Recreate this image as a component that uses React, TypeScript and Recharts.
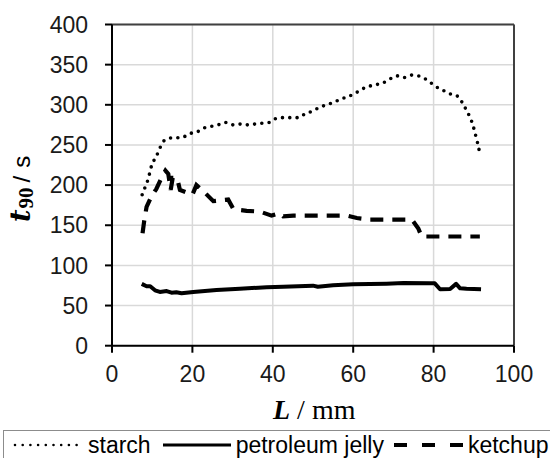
import React from 'react'
import {
  LineChart,
  Line,
  XAxis,
  YAxis,
  CartesianGrid,
  ReferenceLine,
  Legend
} from 'recharts'

// values (L in mm, t90 in s)
const starchL = [7.5, 8.2, 8.9, 9.9, 10.8, 11.7, 12.4, 13.6, 15.4, 17.3, 19.2, 21.1, 22.8, 24.5, 26.4, 28.2, 30, 32, 33.7, 35.5, 37.3, 39.2, 40.8, 42.6, 44.5, 46.3, 48.1, 49.8, 51.7, 53.4, 55.1, 56.9, 58.6, 60.4, 62, 63.9, 65.6, 67.3, 69.1, 70.9, 72.6, 74.5, 76.2, 78, 79.7, 81.1, 82.8, 84.4, 86.2, 87.2, 88.2, 89, 89.7, 90.2, 90.7, 91.2, 91.5]
const starchT = [188, 197, 206, 225, 234, 243, 252, 257, 259, 259, 264, 266, 271, 273, 275, 278, 275, 276, 275, 276, 277, 278, 283, 284, 284, 284, 289, 292, 297, 300, 303, 307, 310, 314, 319, 323, 325, 327, 332, 336, 334, 337, 336, 332, 326, 321, 317, 313, 310, 302, 293, 285, 276, 267, 257, 247, 238]

const jellyL = [7.4, 8.6, 9.5, 10.7, 11.9, 13.6, 14.8, 16, 17.3, 20.2, 26, 31.8, 38.5, 42.6, 50, 51.2, 55, 60, 68.3, 72.5, 79.1, 80.3, 81.6, 84.1, 85.6, 86.6, 88.2, 91.8]
const jellyT = [77, 74, 74, 69, 67, 68, 66, 66.5, 65.3, 67, 69.4, 71, 72.8, 73.5, 74.8, 73.5, 75.3, 76.5, 77.3, 78, 77.7, 77.7, 70.3, 70.6, 77, 71.5, 71, 70.3]

const ketchupL = [7.6, 8, 8.6, 9.9, 11, 12.4, 13.3, 14, 14.6, 15.1, 16.2, 16.9, 20, 21, 23.2, 25.2, 28.9, 30.2, 33.5, 36.8, 39.7, 41.8, 42.6, 45.1, 51.7, 58.4, 60.9, 64.2, 74.6, 76.2, 77, 81.6, 91.5]
const ketchupT = [140, 155, 173, 187, 195, 210, 218, 214, 194, 209, 209, 194, 188, 200, 190, 180, 182, 170, 168, 167, 162, 165, 161, 162, 162, 162, 159, 157, 157, 146, 136, 136, 136]

const xTicks = [0, 20, 40, 60, 80, 100]
const yTicks = [0, 50, 100, 150, 200, 250, 300, 350, 400]

const toPoints = (xs: number[], ys: number[]) => xs.map((L, i) => ({ L, t: ys[i] }))

const sans = '"Liberation Sans", Arial, sans-serif'
const serif = '"Liberation Serif", "Times New Roman", serif'

function YLabel() {
  return (
    <text transform="translate(30,222) rotate(-90)" textAnchor="start" fill="#000" fontSize={24}>
      <tspan fontFamily='"DejaVu Serif", serif' fontStyle="italic" fontWeight="bold" fontSize={27}>t</tspan>
      <tspan fontFamily={serif} fontWeight="bold" fontSize={21} dy={3} dx={1}>90</tspan>
      <tspan fontFamily={sans} dy={-3} dx={5}>/</tspan>
      <tspan fontFamily={sans} dx={8}>s</tspan>
    </text>
  )
}

function XLabel() {
  return (
    <text x={273} y={419} textAnchor="start" fill="#000" fontSize={28} fontFamily={serif}>
      <tspan fontStyle="italic" fontWeight="bold">L</tspan>
      <tspan> / mm</tspan>
    </text>
  )
}

function LegendBox() {
  const item = { display: 'flex', alignItems: 'center' }
  return (
    <div
      style={{
        boxSizing: 'border-box',
        height: 30,
        width: 560,
        border: '1px solid #8c8c8c',
        display: 'flex',
        alignItems: 'center',
        fontFamily: sans,
        fontSize: 23,
        color: '#000',
        paddingLeft: 9,
        whiteSpace: 'nowrap'
      }}
    >
      <div style={item}>
        <svg width={66} height={10}>
          <line x1={2} y1={5} x2={64} y2={5} stroke="#000" strokeWidth={2.6} strokeLinecap="round" strokeDasharray="0 7.7" />
        </svg>
        <span style={{ marginLeft: 9 }}>starch</span>
      </div>
      <div style={{ ...item, marginLeft: 12 }}>
        <svg width={68} height={10}>
          <line x1={0} y1={5} x2={68} y2={5} stroke="#000" strokeWidth={3} />
        </svg>
        <span style={{ marginLeft: 5 }}>petroleum jelly</span>
      </div>
      <div style={{ ...item, marginLeft: 10 }}>
        <svg width={69} height={10}>
          <line x1={0} y1={5} x2={69} y2={5} stroke="#000" strokeWidth={4} strokeDasharray="13 15" />
        </svg>
        <span style={{ marginLeft: 5 }}>ketchup</span>
      </div>
    </div>
  )
}

export default function App() {
  return (
    <div style={{ position: 'absolute', left: 0, top: 0, width: 550, height: 458, background: '#fff', overflow: 'hidden' }}>
      <LineChart width={550} height={458} margin={{ top: 24.5, right: 36, left: 0, bottom: 32.3 }}>
        <CartesianGrid stroke="#d9d9d9" strokeWidth={1.5} />
        <XAxis
          type="number"
          dataKey="L"
          domain={[0, 100]}
          ticks={xTicks}
          height={50}
          tickSize={7}
          tickMargin={13}
          axisLine={{ stroke: '#000', strokeWidth: 2 }}
          tickLine={{ stroke: '#000', strokeWidth: 2 }}
          tick={{ fill: '#1a1a1a', fontSize: 23, fontFamily: sans }}
          label={<XLabel />}
        />
        <YAxis
          type="number"
          domain={[0, 400]}
          ticks={yTicks}
          width={112}
          tickSize={7}
          tickMargin={17}
          axisLine={{ stroke: '#000', strokeWidth: 2 }}
          tickLine={{ stroke: '#000', strokeWidth: 2 }}
          tick={{ fill: '#1a1a1a', fontSize: 23, fontFamily: sans }}
          label={<YLabel />}
        />
        <ReferenceLine y={400} stroke="#404040" strokeWidth={2} />
        <ReferenceLine x={100} stroke="#404040" strokeWidth={2} />
        <Legend
          verticalAlign="bottom"
          content={<LegendBox />}
          wrapperStyle={{ top: 430, left: 3, bottom: 'auto', width: 560, height: 30 }}
        />
        <Line
          data={toPoints(starchL, starchT)}
          dataKey="t"
          name="starch"
          type="monotone"
          stroke="#000"
          strokeWidth={3.6}
          strokeLinecap="round"
          strokeDasharray="0 7.3"
          dot={false}
          isAnimationActive={false}
        />
        <Line
          data={toPoints(jellyL, jellyT)}
          dataKey="t"
          name="petroleum jelly"
          type="linear"
          stroke="#000"
          strokeWidth={4}
          strokeLinejoin="round"
          dot={false}
          isAnimationActive={false}
        />
        <Line
          data={toPoints(ketchupL, ketchupT)}
          dataKey="t"
          name="ketchup"
          type="linear"
          stroke="#000"
          strokeWidth={4.2}
          strokeDasharray="13 9"
          dot={false}
          isAnimationActive={false}
        />
      </LineChart>
    </div>
  )
}
